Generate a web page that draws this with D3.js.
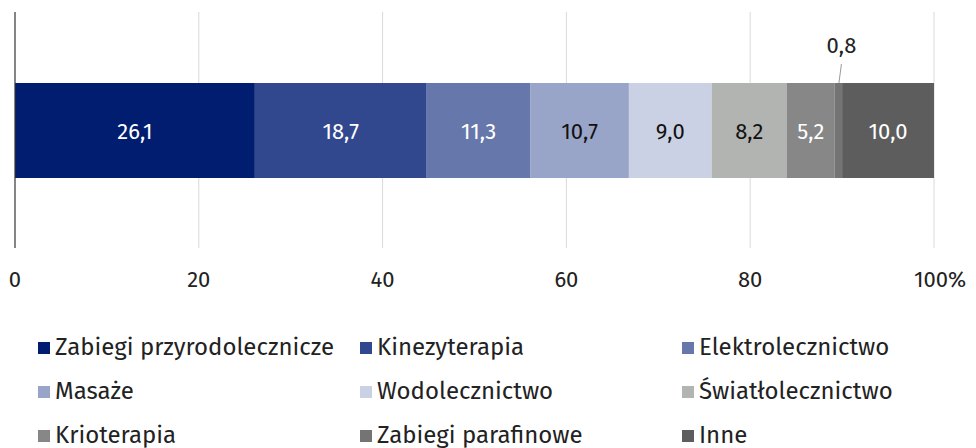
<!DOCTYPE html>
<html><head><meta charset="utf-8">
<script src="https://cdn.jsdelivr.net/npm/d3@7"></script>
<style>
body{margin:0;background:#fff;}
text{font-family:"Fira Sans","Noto Sans","Open Sans",sans-serif;}
</style></head>
<body><svg id="c" width="976" height="448"></svg>
<script>
const categories = ["Zabiegi przyrodolecznicze","Kinezyterapia","Elektrolecznictwo","Masaże","Wodolecznictwo","Światłolecznictwo","Krioterapia","Zabiegi parafinowe","Inne"];
const values = [26.1, 18.7, 11.3, 10.7, 9.0, 8.2, 5.2, 0.8, 10.0];
const colors = ["#001d6f","#31488f","#6677ab","#99a5c8","#cbd1e4","#b2b4b2","#878787","#747474","#5d5d5d"];
const labelColors = ["#fff","#fff","#fff","#111","#111","#111","#fff",null,"#fff"];
const tickValues = [0,20,40,60,80,100];
const tickLabels = ["0","20","40","60","80","100%"];

const svg = d3.select("#c");
const x = d3.scaleLinear().domain([0,100]).range([15,934]);
const bandY = 83, bandH = 95;

// gridlines
svg.append("g").selectAll("line").data(tickValues.slice(1)).join("line")
  .attr("x1",d=>x(d)).attr("x2",d=>x(d)).attr("y1",12).attr("y2",248)
  .attr("stroke","#d9d9d9").attr("stroke-width",1);

// stacked data
let cum=0;
const segs = values.map((v,i)=>{const s={i,v,x0:cum,x1:cum+v};cum+=v;return s;});

svg.append("g").selectAll("rect").data(segs).join("rect")
  .attr("x",d=>x(d.x0)).attr("width",d=>x(d.x1)-x(d.x0))
  .attr("y",bandY).attr("height",bandH)
  .attr("fill",d=>colors[d.i]);

// labels
const fmt = v=>v.toFixed(1).replace(".",",");
svg.append("g").selectAll("text").data(segs.filter(d=>labelColors[d.i])).join("text")
  .attr("x",d=>(x(d.x0)+x(d.x1))/2).attr("y",bandY+bandH/2+8)
  .attr("text-anchor","middle").attr("font-size",22)
  .attr("fill",d=>labelColors[d.i]).text(d=>fmt(d.v));

// small segment label with leader
const sm = segs[7];
const cx = (x(sm.x0)+x(sm.x1))/2;
svg.append("line").attr("x1",cx+3).attr("y1",64).attr("x2",cx+0.5).attr("y2",bandY)
  .attr("stroke","#999").attr("stroke-width",1);
svg.append("text").attr("x",cx+3).attr("y",53).attr("text-anchor","middle")
  .attr("font-size",22).attr("fill","#222").text(fmt(sm.v));

// axis line
svg.append("line").attr("x1",x(0)).attr("x2",x(0)).attr("y1",12).attr("y2",248)
  .attr("stroke","#333").attr("stroke-width",1.2);

// tick labels
svg.append("g").selectAll("text").data(tickValues).join("text")
  .attr("x",(d,i)=>i===5?x(d)-20:x(d)).attr("y",287).attr("text-anchor",(d,i)=>i===5?"start":"middle")
  .attr("font-size",22).attr("fill","#222").text((d,i)=>tickLabels[i]);

// legend
const colX=[38,360,682], rowY=[355,399,443];
const lg = svg.append("g").selectAll("g").data(categories).join("g")
  .attr("transform",(d,i)=>`translate(${colX[i%3]},${rowY[Math.floor(i/3)]})`);
lg.append("rect").attr("x",0).attr("y",-13).attr("width",12).attr("height",12).attr("fill",(d,i)=>colors[i]);
lg.append("text").attr("x",17).attr("y",0).attr("font-size",24).attr("fill","#222").text(d=>d);
</script></body></html>
